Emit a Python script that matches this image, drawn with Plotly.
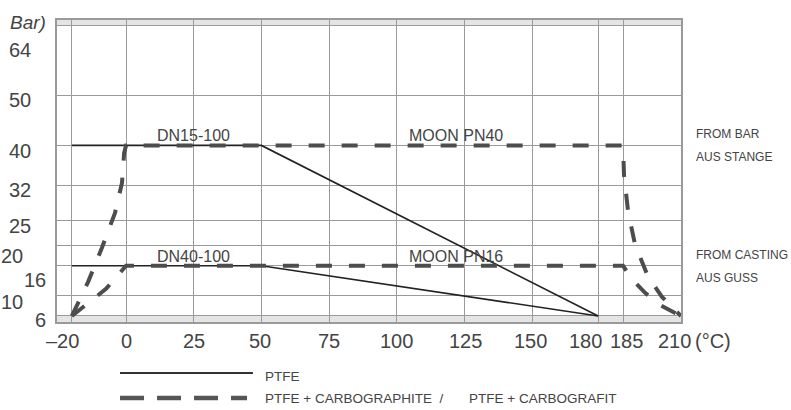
import numpy as np
import plotly.graph_objects as go

# ---------------- data ----------------
temp_ticks = [-20, 0, 25, 50, 75, 100, 125, 150, 180, 185, 210]
temp_tick_labels = ["\u201320", "0", "25", "50", "75", "100", "125", "150", "180", "185", "210"]
pressure_ticks = [6, 10, 16, 20, 25, 32, 40, 50, 64]
pressure_tick_labels = ["6", "10", "16", "20", "25", "32", "40", "50", "64"]

# PTFE (solid)
ptfe_pn40_t = [-20, 50, 180]
ptfe_pn40_p = [40, 40, 6]
ptfe_pn16_t = [-20, 50, 180]
ptfe_pn16_p = [16, 16, 6]

# PTFE + carbographite (dashed)
carbo_pn40_t = [-20, -14, -8.9, -4.1, -1.5, -0.7, 0, 185, 185.4, 187.2, 190.2, 195.8, 201.8, 210]
carbo_pn40_p = [6, 12.8, 19.6, 26.5, 32.5, 38.5, 40, 40, 34.1, 26.7, 20.2, 13.8, 9.8, 6]
carbo_pn16_t = [-20, -7.4, 0, 185, 188.4, 194.5, 200.9, 210]
carbo_pn16_p = [6, 11.4, 16, 16, 13.6, 10.6, 8.2, 6]

# ---------------- axis layout (non-uniform temperature scale) ----------------
tick_axis_pos = [-20, 0, 25, 50, 75, 100, 125, 150, 174.4, 183.6, 205.0]


def tx(vals):
    return np.interp(vals, temp_ticks, tick_axis_pos)


NUM_FONT = "Liberation Sans, Arial, sans-serif"
NARROW = "Liberation Sans, Arial, sans-serif"
TXT = "#444444"
GRID = "#9a9a9a"

fig = go.Figure()
fig.add_trace(go.Scatter(x=tx(ptfe_pn40_t), y=ptfe_pn40_p, mode="lines",
                         line=dict(color="#222222", width=1.6), name="PTFE", hoverinfo="skip"))
fig.add_trace(go.Scatter(x=tx(ptfe_pn16_t), y=ptfe_pn16_p, mode="lines",
                         line=dict(color="#222222", width=1.6), name="PTFE", hoverinfo="skip"))
fig.add_trace(go.Scatter(x=tx(carbo_pn40_t), y=carbo_pn40_p, mode="lines",
                         line=dict(color="#4d4d4d", width=4, dash="16px,17px"),
                         name="PTFE + CARBOGRAPHITE", hoverinfo="skip"))
fig.add_trace(go.Scatter(x=tx(carbo_pn16_t), y=carbo_pn16_p, mode="lines",
                         line=dict(color="#4d4d4d", width=4, dash="16px,17px"),
                         name="PTFE + CARBOGRAPHITE", hoverinfo="skip"))

annotations = []
# x tick labels
x_label_shift = [-9, 0, 0, -1, 0, 0, 1, -2, -13, 3, -7]
for v, lab, sh in zip(tx(temp_ticks), temp_tick_labels, x_label_shift):
    annotations.append(dict(x=v, y=-0.063, xref="x", yref="paper", text=lab, showarrow=False,
                            xanchor="center", yanchor="middle", xshift=sh,
                            font=dict(family=NUM_FONT, size=20, color=TXT)))
annotations.append(dict(x=1.019, y=-0.063, xref="paper", yref="paper", text="(\u00b0C)", showarrow=False,
                        xanchor="left", yanchor="middle", font=dict(family=NUM_FONT, size=20, color=TXT)))
# y tick labels (staggered as in original)
y_label_xshift = {6: -9, 10: -32, 16: -9, 20: -32, 25: -24, 32: -24, 40: -24, 50: -24, 64: -24}
y_label_yshift = {6: -4, 10: -6, 16: -14, 20: -10, 25: -5.5, 32: -4.5, 40: -6, 50: -5, 64: -24.5}
for v, lab in zip(pressure_ticks, pressure_tick_labels):
    annotations.append(dict(x=0, y=v, xref="paper", yref="y", text=lab, showarrow=False,
                            xanchor="right", yanchor="middle",
                            xshift=y_label_xshift[v], yshift=y_label_yshift[v],
                            font=dict(family=NUM_FONT, size=20, color=TXT)))
annotations.append(dict(x=-0.0785, y=0.993, xref="paper", yref="paper", text="<i>Bar)</i>",
                        showarrow=False, xanchor="left", yanchor="middle",
                        font=dict(family=NUM_FONT, size=19, color=TXT)))

# series labels
for t, p, lab in [(25, 40, "DN15-100"), (122, 40, "MOON PN40"), (25, 16, "DN40-100"), (122, 16, "MOON PN16")]:
    annotations.append(dict(x=float(tx(t)), y=p, xref="x", yref="y", text=lab, showarrow=False,
                            xanchor="center", yanchor="bottom", yshift=-1,
                            font=dict(family=NUM_FONT, size=16, color=TXT)))

# right-side labels
for p, lines in [(40, ("FROM BAR", "AUS STANGE")), (16, ("FROM CASTING", "AUS GUSS"))]:
    for lab, ys in zip(lines, (11, -12)):
        annotations.append(dict(x=1.0205, y=p, xref="paper", yref="y", text=lab, showarrow=False,
                                xanchor="left", yanchor="middle", yshift=ys,
                                font=dict(family=NARROW, size=12, color=TXT)))

# custom legend
annotations.append(dict(x=0.330, y=-0.179, xref="paper", yref="paper", text="PTFE", showarrow=False,
                        xanchor="left", yanchor="middle", font=dict(family=NARROW, size=13.5, color=TXT)))
annotations.append(dict(x=0.330, y=-0.252, xref="paper", yref="paper", text="PTFE + CARBOGRAPHITE  /",
                        showarrow=False, xanchor="left", yanchor="middle",
                        font=dict(family=NARROW, size=13.5, color=TXT)))
annotations.append(dict(x=0.657, y=-0.252, xref="paper", yref="paper", text="PTFE + CARBOGRAFIT",
                        showarrow=False, xanchor="left", yanchor="middle",
                        font=dict(family=NARROW, size=13.5, color=TXT)))

shapes = [
    dict(type="rect", xref="paper", yref="y", x0=0, x1=1, y0=4.8, y1=6, fillcolor="#e4e4e4",
         line=dict(width=0), layer="below"),
    dict(type="rect", xref="paper", yref="y", x0=0, x1=1, y0=64, y1=65, fillcolor="#e4e4e4",
         line=dict(width=0), layer="below"),
    dict(type="line", xref="paper", yref="paper", x0=0.101, x1=0.314, y0=-0.169, y1=-0.169,
         line=dict(color="#333333", width=2)),
    dict(type="line", xref="paper", yref="paper", x0=0.101, x1=0.3045, y0=-0.252, y1=-0.252,
         line=dict(color="#555555", width=4.5, dash="24px,13px")),
]

fig.update_layout(
    width=791, height=410,
    margin=dict(l=57, r=110, t=20, b=88),
    paper_bgcolor="white", plot_bgcolor="white",
    showlegend=False,
    annotations=annotations,
    shapes=shapes,
    xaxis=dict(range=[-25.5, 205.0], tickmode="array", tickvals=tx(temp_ticks), showticklabels=False,
               ticks="", showgrid=True, gridcolor=GRID, gridwidth=1.3, zeroline=False,
               showline=True, mirror=True, linecolor=GRID, linewidth=1.5, fixedrange=True),
    yaxis=dict(range=[4.8, 65.0], tickmode="array", tickvals=pressure_ticks, showticklabels=False,
               ticks="", showgrid=True, gridcolor=GRID, gridwidth=1.3, zeroline=False,
               showline=True, mirror=True, linecolor=GRID, linewidth=1.5, fixedrange=True),
)

fig.write_html("out.html", config={"displayModeBar": False},
               post_script="document.body.style.margin='0';document.body.style.padding='0';")
